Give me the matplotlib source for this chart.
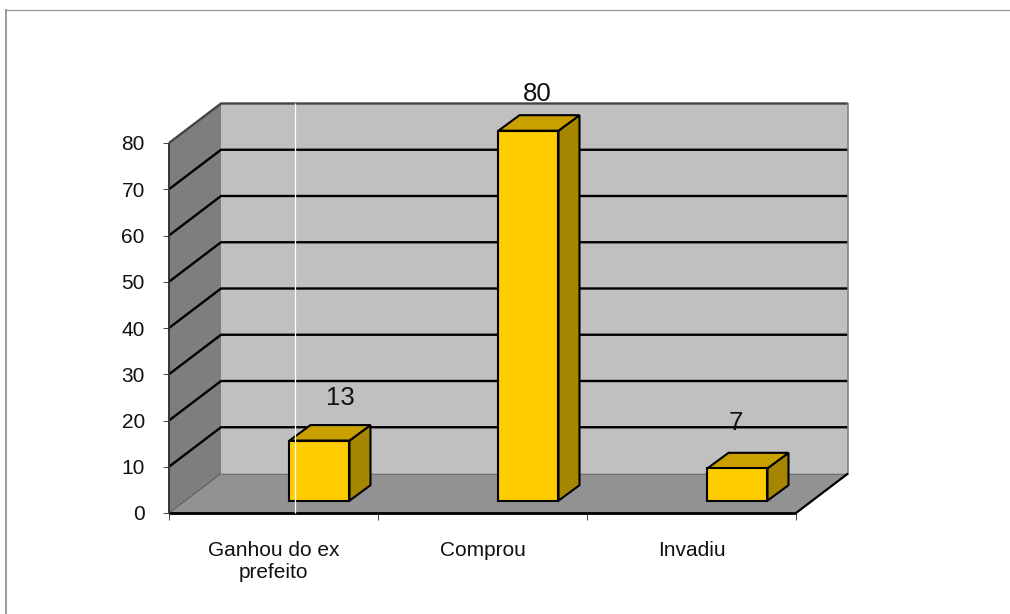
import matplotlib
matplotlib.use("Agg")
import matplotlib.pyplot as plt
from matplotlib.patches import Polygon
from matplotlib.lines import Line2D

plt.rcParams['font.family'] = ['Liberation Sans', 'DejaVu Sans']

categories = ["Ganhou do ex\nprefeito", "Comprou", "Invadiu"]
values = [13, 80, 7]
y_ticks = [0, 10, 20, 30, 40, 50, 60, 70, 80]
label_offsets_px = [(20.5, 42.5), (9, 36.5), (-2, 45.5)]

W, H = 1010, 614
fig = plt.figure(figsize=(W / 100, H / 100), dpi=100, facecolor='white')
L, R, T, B = 169, 796, 143, 513
ax = fig.add_axes([L / W, 1 - B / H, (R - L) / W, (B - T) / H])
ax.set_xlim(0, 3)
ax.set_ylim(0, 80)
ax.patch.set_visible(False)
for s in ax.spines.values():
    s.set_visible(False)

px_x = 3 / (R - L)
px_y = 80 / (B - T)
DX, DY = 52 * px_x, 39.5 * px_y        # chart depth
BX, BY = 21 * px_x, 15.5 * px_y        # bar depth
bar_w = 60 * px_x
bar_shift = 0.72
bar_base = 12.3 * px_y


def poly(pts, fc, ec='none', lw=0, z=1):
    ax.add_patch(Polygon(pts, closed=True, facecolor=fc, edgecolor=ec, linewidth=lw,
                         zorder=z, clip_on=False, joinstyle='miter'))


def line(xs, ys, color='black', lw=1.5, z=2):
    ax.add_line(Line2D(xs, ys, color=color, linewidth=lw, zorder=z, clip_on=False,
                       solid_capstyle='butt'))


ymax = y_ticks[-1]
# walls
poly([(DX, DY), (3 + DX, DY), (3 + DX, ymax + DY), (DX, ymax + DY)], '#C0C0C0')
poly([(0, 0), (DX, DY), (DX, ymax + DY), (0, ymax)], '#7E7E7E')
# gridlines
for v in y_ticks[1:-1]:
    line([0, DX, 3 + DX], [v, v + DY, v + DY], 'black', 1.7)
# outline
line([0, DX, 3 + DX], [ymax, ymax + DY, ymax + DY], '#444444', 1.7)
line([3 + DX, 3 + DX], [DY, ymax + DY], '#808080', 1.2)
line([0, 0], [0, ymax], '#333333', 1.4)
# floor
poly([(0, 0), (3, 0), (3 + DX, DY), (DX, DY)], '#929292', z=3)
line([DX, 3 + DX], [DY, DY], '#707070', 0.7, z=3)
line([0, DX], [0, DY], '#555555', 0.7, z=3)
line([0, 3], [0, 0], 'black', 2.0, z=4)
line([3, 3 + DX], [0, DY], 'black', 1.6, z=4)

# bars
for i, (v, off) in enumerate(zip(values, label_offsets_px)):
    x0 = i + bar_shift - bar_w / 2
    x1 = x0 + bar_w
    y0 = bar_base
    y1 = y0 + v
    edge = dict(ec='black', lw=1.5, z=5)
    poly([(x1, y0), (x1 + BX, y0 + BY), (x1 + BX, y1 + BY), (x1, y1)], '#A68500', **edge)
    poly([(x0, y1), (x1, y1), (x1 + BX, y1 + BY), (x0 + BX, y1 + BY)], '#C9A000', **edge)
    poly([(x0, y0), (x1, y0), (x1, y1), (x0, y1)], '#FFCC00', **edge)
    ax.annotate(str(v), (i + bar_shift, y1), xytext=(off[0] * 0.72, off[1] * 0.72),
                textcoords='offset points', ha='center', va='center',
                fontsize=18.5, color='#111111', zorder=6, annotation_clip=False)

# white stray vertical line
line([(295.4 - L) * px_x] * 2, [0, ymax + DY], 'white', 0.9, z=7)

# ticks and labels
ax.set_yticks(y_ticks)
ax.tick_params(axis='y', length=4.4, width=0.7, color='#444444', pad=13, labelsize=15,
               labelcolor='#111111')
ax.set_xticks([0, 1, 2, 3])
ax.set_xticklabels([])
ax.tick_params(axis='x', which='major', length=5, width=0.7, color='#444444')
ax.set_xticks([0.5, 1.5, 2.5], minor=True)
ax.set_xticklabels(categories, minor=True, fontsize=15, linespacing=1.23, color='#111111')
ax.tick_params(axis='x', which='minor', length=0, pad=20)

# outer frame of the chart area
fig.add_artist(Line2D([6 / W, 6 / W], [0, 1 - 9.5 / H], color='#999999', lw=1.4))
fig.add_artist(Line2D([5 / W, 1], [1 - 9.5 / H, 1 - 9.5 / H], color='#999999', lw=0.9))

fig.savefig('out.png', dpi=100, facecolor='white')
